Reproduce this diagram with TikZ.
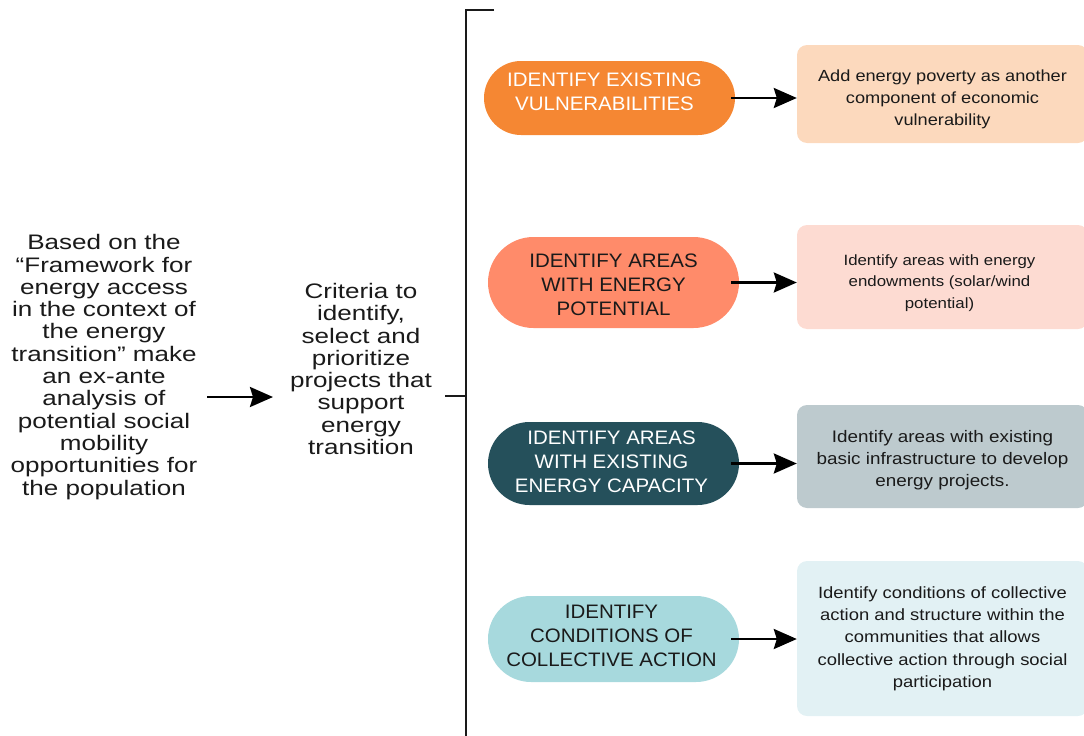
\documentclass[tikz,border=0pt]{standalone}
\usepackage{fontspec}
\setmainfont{Liberation Sans}
\newfontfamily\widefont[FakeStretch=1.24]{Liberation Sans}
\newfontfamily\pillfont[FakeStretch=1.05]{Liberation Sans}
\newfontfamily\boxfont[FakeStretch=1.13]{Liberation Sans}
\usetikzlibrary{arrows.meta}
\definecolor{pOne}{HTML}{F58733}
\definecolor{pTwo}{HTML}{FF8B6A}
\definecolor{pThree}{HTML}{25505B}
\definecolor{pFour}{HTML}{A7D9DD}
\definecolor{bOne}{HTML}{FCD9BD}
\definecolor{bTwo}{HTML}{FDDBD2}
\definecolor{bThree}{HTML}{BDCACE}
\definecolor{bFour}{HTML}{E2F1F4}
\definecolor{ink}{HTML}{1A1A1A}
\tikzset{
  maintext/.style={align=center, text=ink, inner sep=0pt, font=\widefont\fontsize{21}{22.3}\selectfont},
  pill/.style={draw=none, rectangle, inner sep=0pt, minimum width=251pt},
  pilltext/.style={align=center, inner sep=0pt, font=\pillfont\fontsize{19.5}{24.2}\selectfont},
  infobox/.style={draw=none, rectangle, rounded corners=10pt, inner sep=0pt, minimum width=291pt},
  infotext/.style={align=center, inner sep=0pt, text=ink},
  arr/.style={line width=2.6pt, -{Stealth[length=23pt,width=20pt,inset=3pt]}},
  bracketline/.style={line width=2pt, draw=ink},
}
\begin{document}
\begin{tikzpicture}[x=1pt,y=-1pt]
\useasboundingbox (0,0) rectangle (1084,736);
\begin{scope}
\clip (0,0) rectangle (1084,736);
% left texts
\node[maintext] (lt) at (104,367) {Based on the\\“Framework for\\energy access\\in the context of\\the energy\\transition” make\\an ex-ante\\analysis of\\potential social\\mobility\\opportunities for\\the population};
\node[maintext] (crit) at (361,369) {Criteria to\\identify,\\select and\\prioritize\\projects that\\support\\energy\\transition};
\coordinate (la1) at (207,397);
\coordinate (la2) at (273,397);
\draw[arr] (la1) -- (la2);
% bracket
\coordinate (bt) at (466,10);
\coordinate (btick) at (494,10);
\coordinate (bb) at (466,740);
\coordinate (bmid) at (466,396);
\coordinate (cout) at (445,396);
\draw[bracketline] (btick) -- (bt) -- (bb);
\draw[bracketline] (cout) -- (bmid);
% pills
\node[pill, fill=pOne, rounded corners=37pt, minimum height=74pt] (p1) at (609.5,98) {};
\node[pill, fill=pTwo, rounded corners=45.5pt, minimum height=91pt] (p2) at (613.5,282.5) {};
\node[pill, fill=pThree, rounded corners=41.5pt, minimum height=83pt] (p3) at (613.5,463.5) {};
\node[pill, fill=pFour, rounded corners=43pt, minimum height=86pt] (p4) at (613.5,639) {};
\node[pilltext, text=white] (p1t) at ([xshift=-5pt,yshift=6pt]p1.center) {IDENTIFY EXISTING\\VULNERABILITIES};
\node[pilltext, text=ink] (p2t) at ([yshift=-2pt]p2.center) {IDENTIFY AREAS\\WITH ENERGY\\POTENTIAL};
\node[pilltext, text=white] (p3t) at ([xshift=-2pt,yshift=2pt]p3.center) {IDENTIFY AREAS\\WITH EXISTING\\ENERGY CAPACITY};
\node[pilltext, text=ink] (p4t) at ([xshift=-2pt,yshift=3pt]p4.center) {IDENTIFY\\CONDITIONS OF\\COLLECTIVE ACTION};
% info boxes
\node[infobox, fill=bOne, minimum height=98pt] (b1) at (942.5,94) {};
\node[infobox, fill=bTwo, minimum height=104pt] (b2) at (942.5,277) {};
\node[infobox, fill=bThree, minimum height=103pt] (b3) at (942.5,456.5) {};
\node[infobox, fill=bFour, minimum height=155pt] (b4) at (942.5,638.5) {};
\node[infotext, font=\boxfont\fontsize{16.1}{22}\selectfont] (b1t) at ([yshift=-5pt]b1.center) {Add energy poverty as another\\component of economic\\vulnerability};
\node[infotext, font=\boxfont\fontsize{14.9}{21.5}\selectfont] (b2t) at ([xshift=-3pt,yshift=-6pt]b2.center) {Identify areas with energy\\endowments (solar/wind\\potential)};
\node[infotext, font=\boxfont\fontsize{16.7}{22}\selectfont] (b3t) at ([yshift=-4pt]b3.center) {Identify areas with existing\\basic infrastructure to develop\\energy projects.};
\node[infotext, font=\boxfont\fontsize{16.3}{22.3}\selectfont] (b4t) at (b4.center) {Identify conditions of collective\\action and structure within the\\communities that allows\\collective action through social\\participation};
% arrows
\draw[arr, shorten <=-4pt] (p1.east) -- (b1.west |- p1.east);
\draw[arr, shorten <=-8pt] (p2.east) -- (b2.west |- p2.east);
\draw[arr, shorten <=-8pt] (p3.east) -- (b3.west |- p3.east);
\draw[arr, shorten <=-8pt] (p4.east) -- (b4.west |- p4.east);
\end{scope}
\end{tikzpicture}
\end{document}
